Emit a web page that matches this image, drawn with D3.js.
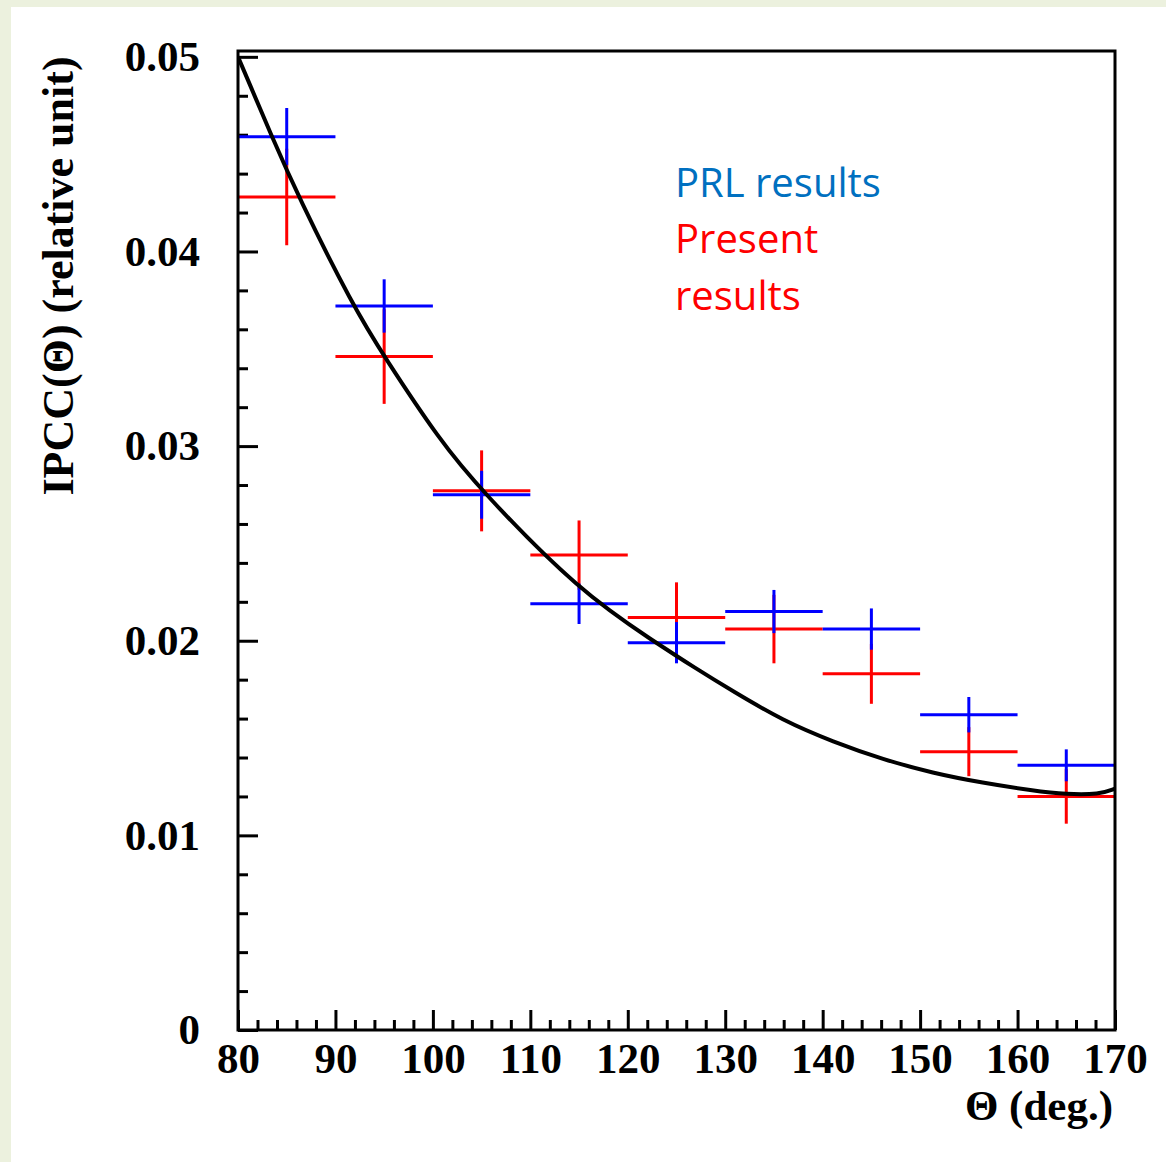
<!DOCTYPE html>
<html>
<head>
<meta charset="utf-8">
<script src="https://cdn.jsdelivr.net/npm/d3@7/dist/d3.min.js"></script>
<style>
  html, body { margin: 0; padding: 0; background: #ffffff; }
  svg { display: block; }
</style>
</head>
<body>
<script>
// Angular bins (deg) – each point covers ±5 deg
const thetaBins = [85, 95, 105, 115, 125, 135, 145, 155, 165];
const binHalfWidth = 5;

// PRL results (blue)
const prlValues = [0.0459, 0.0372, 0.0275, 0.0219, 0.0199, 0.0215, 0.0206, 0.0162, 0.0136];
const prlErrors = [0.00147, 0.00137, 0.00123, 0.00104, 0.00106, 0.00111, 0.00106, 0.00091, 0.00082];

// Present results (red)
const presentValues = [0.0428, 0.0346, 0.0277, 0.0244, 0.0212, 0.0206, 0.0183, 0.0143, 0.0120];
const presentErrors = [0.00248, 0.00243, 0.00208, 0.00178, 0.00180, 0.00176, 0.00154, 0.00126, 0.00140];

// Theoretical curve
const curveTheta  = [80, 81.2, 83.3, 86.2, 91.8, 95.0, 100.7, 104.8, 115.1, 122.9, 126.9, 130.8, 135.9, 141.1, 146.2, 151.3, 156.4, 161.6, 165.0, 168.4, 170.0];
const curveValues = [0.0500, 0.0486, 0.0461, 0.0428, 0.0372, 0.0346, 0.0303, 0.0278, 0.0225, 0.0199, 0.0186, 0.0174, 0.0159, 0.0148, 0.0139, 0.0132, 0.0127, 0.0123, 0.0121, 0.0121, 0.0124];

// Axis ticks
const xMajorTicks = [80, 90, 100, 110, 120, 130, 140, 150, 160, 170];
const xMinorTicks = d3.range(82, 170, 2).filter(v => v % 10 !== 0);
const yMajorTicks = [0, 0.01, 0.02, 0.03, 0.04, 0.05];
const yMinorTicks = d3.range(1, 25).map(i => i * 0.002).filter((v, i) => (i + 1) % 5 !== 0);

const W = 1166, H = 1162;
const frame = { left: 238, right: 1115, top: 51, bottom: 1030 };

const svg = d3.select("body").append("svg").attr("width", W).attr("height", H);

// Slide background with a light border strip
svg.append("rect").attr("width", W).attr("height", H).attr("fill", "#ecf1de");
svg.append("rect").attr("x", 11).attr("y", 7).attr("width", W - 11).attr("height", H - 7).attr("fill", "#ffffff");

const x = d3.scaleLinear().domain([80, 170]).range([frame.left, frame.right]);
const y = d3.scaleLinear().domain([0, 0.0503]).range([frame.bottom, frame.top]);

svg.append("clipPath").attr("id", "plotArea")
  .append("rect")
  .attr("x", frame.left).attr("y", frame.top)
  .attr("width", frame.right - frame.left).attr("height", frame.bottom - frame.top);

const tickFont = "'Liberation Serif', 'Times New Roman', serif";

// Y axis: major ticks with labels, minor ticks
const yMajor = svg.append("g").attr("transform", `translate(${frame.left},0)`)
  .call(d3.axisLeft(y).tickValues(yMajorTicks).tickSize(-20).tickSizeOuter(0).tickPadding(38)
    .tickFormat(d => d === 0 ? "0" : d.toFixed(2)));
const yMinor = svg.append("g").attr("transform", `translate(${frame.left},0)`)
  .call(d3.axisLeft(y).tickValues(yMinorTicks).tickSize(-10).tickSizeOuter(0).tickFormat(""));

// X axis
const xMajor = svg.append("g").attr("transform", `translate(0,${frame.bottom})`)
  .call(d3.axisBottom(x).tickValues(xMajorTicks).tickSize(-20).tickSizeOuter(0).tickPadding(12)
    .tickFormat(d3.format("d")));
const xMinor = svg.append("g").attr("transform", `translate(0,${frame.bottom})`)
  .call(d3.axisBottom(x).tickValues(xMinorTicks).tickSize(-10).tickSizeOuter(0).tickFormat(""));

[yMajor, yMinor, xMajor, xMinor].forEach(g => {
  g.select(".domain").remove();
  g.selectAll(".tick line").attr("stroke", "#000").attr("stroke-width", 3);
  g.selectAll(".tick text")
    .attr("fill", "#000")
    .style("font-family", tickFont)
    .style("font-weight", "bold")
    .style("font-size", "43px");
});

// Error-bar crosses
const plot = svg.append("g").attr("clip-path", "url(#plotArea)");

function drawSeries(values, errors, color) {
  const g = plot.append("g");
  const pts = thetaBins.map((t, i) => ({ t, v: values[i], e: errors[i] }));
  g.selectAll("line.h").data(pts).join("line")
    .attr("class", "h")
    .attr("x1", d => x(d.t - binHalfWidth)).attr("x2", d => x(d.t + binHalfWidth))
    .attr("y1", d => y(d.v)).attr("y2", d => y(d.v))
    .attr("stroke", color).attr("stroke-width", 3);
  g.selectAll("line.v").data(pts).join("line")
    .attr("class", "v")
    .attr("x1", d => x(d.t)).attr("x2", d => x(d.t))
    .attr("y1", d => y(d.v - d.e)).attr("y2", d => y(d.v + d.e))
    .attr("stroke", color).attr("stroke-width", 3);
}
drawSeries(presentValues, presentErrors, "#ff0000");
drawSeries(prlValues, prlErrors, "#0000ff");

// Theory curve
const curvePts = curveTheta.map((t, i) => [t, curveValues[i]]);
plot.append("path")
  .datum(curvePts)
  .attr("fill", "none")
  .attr("stroke", "#000")
  .attr("stroke-width", 4)
  .attr("stroke-linejoin", "round")
  .attr("d", d3.line().x(d => x(d[0])).y(d => y(d[1])).curve(d3.curveBasis));

// Frame
svg.append("rect")
  .attr("x", frame.left).attr("y", frame.top)
  .attr("width", frame.right - frame.left).attr("height", frame.bottom - frame.top)
  .attr("fill", "none").attr("stroke", "#000").attr("stroke-width", 3);

// Axis titles
svg.append("text")
  .attr("transform", "translate(73,276) rotate(-90)")
  .attr("text-anchor", "middle")
  .style("font-family", tickFont).style("font-weight", "bold").style("font-size", "44px")
  .text("IPCC(Θ) (relative unit)");

svg.append("text")
  .attr("x", 1113).attr("y", 1120)
  .attr("text-anchor", "end")
  .style("font-family", tickFont).style("font-weight", "bold").style("font-size", "43px")
  .text("Θ (deg.)");

// Legend text
const legendFont = "'Open Sans', 'Noto Sans', sans-serif";
const legendLines = [
  { text: "PRL results", color: "#0070c0", y: 197 },
  { text: "Present", color: "#ff0000", y: 253 },
  { text: "results", color: "#ff0000", y: 310 }
];
svg.selectAll("text.legend").data(legendLines).join("text")
  .attr("class", "legend")
  .attr("x", 675).attr("y", d => d.y)
  .attr("fill", d => d.color)
  .style("font-family", legendFont).style("font-size", "40px")
  .text(d => d.text);
</script>
</body>
</html>
